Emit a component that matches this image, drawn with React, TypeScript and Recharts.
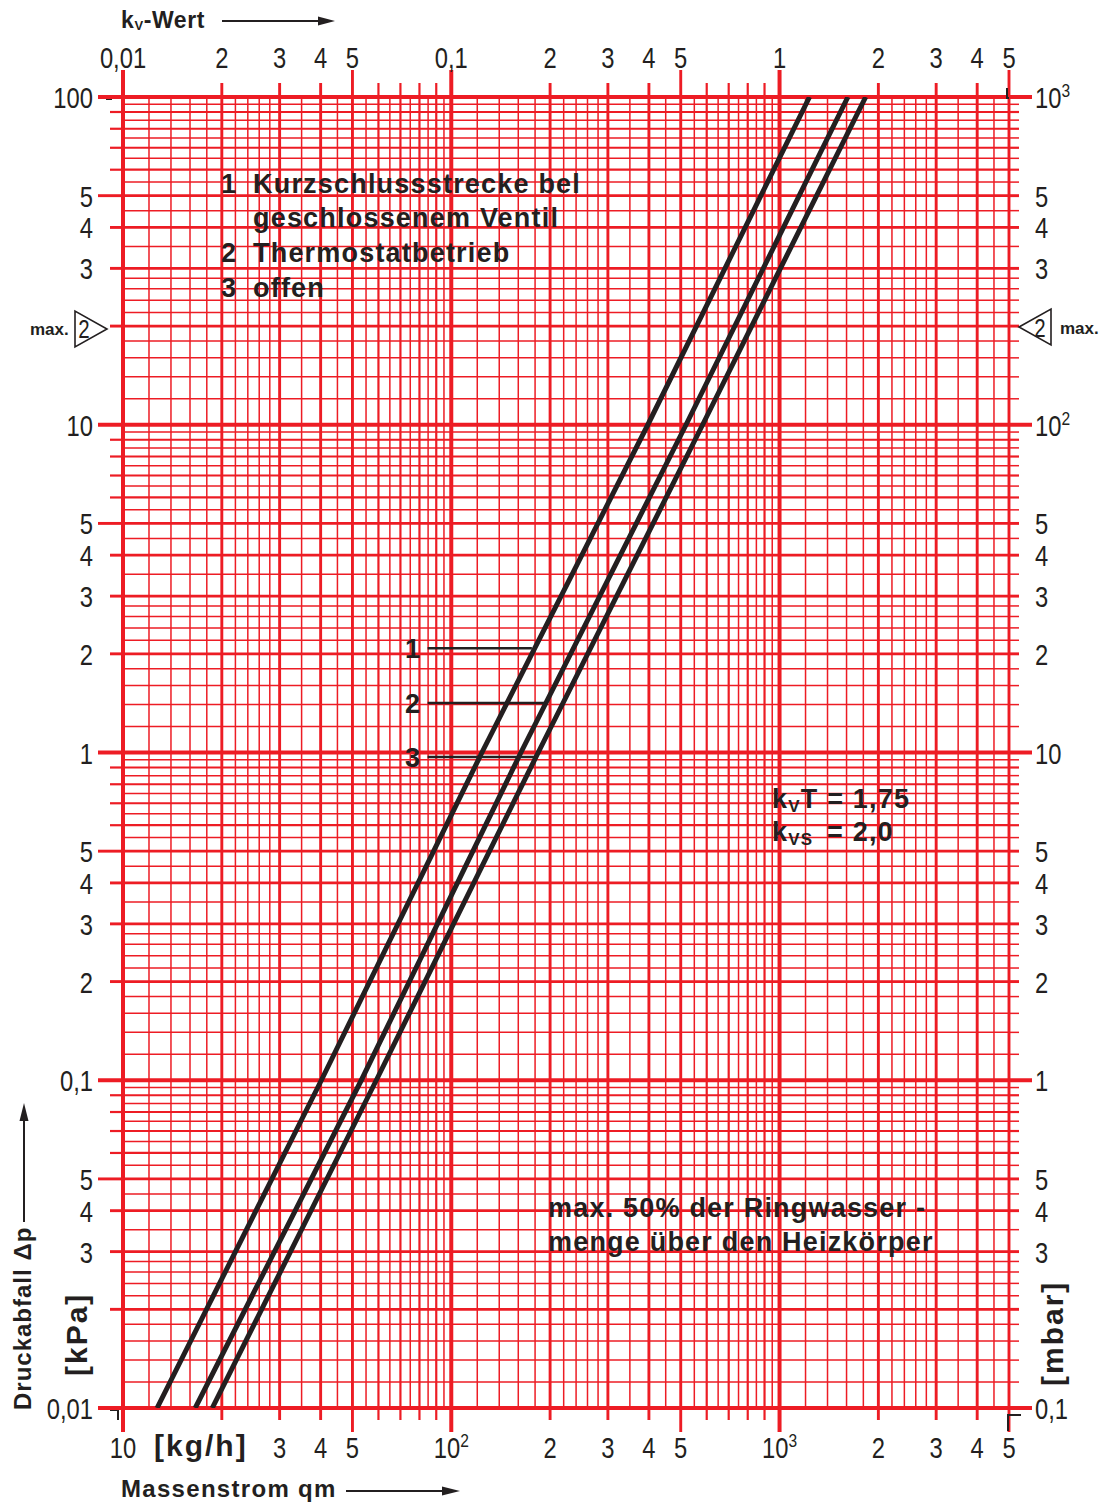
import React from 'react';
import { ComposedChart, Line, XAxis, YAxis, ReferenceLine } from 'recharts';

// ---- data ----
const pressureKPa = [0.01, 0.1, 1, 10, 100];
const flowCurve1 = [12.7, 40.2, 124, 397, 1234]; // 1 Kurzschlussstrecke
const flowCurve2 = [16.6, 53.2, 163, 519, 1615]; // 2 Thermostatbetrieb
const flowCurve3 = [18.7, 59.1, 184, 583, 1830]; // 3 offen

const flowDomain = [10, 5000];
const pressureDomain = [0.01, 100];
const flowDecades = [10, 100, 1000];
const pressureDecades = [0.01, 0.1, 1, 10];
const gridMantissas = [1, 1.2, 1.4, 1.6, 1.8, 2, 2.2, 2.4, 2.6, 2.8, 3, 3.5, 4, 4.5, 5, 5.5, 6, 6.5, 7, 7.5, 8, 8.5, 9, 9.5];
const labeledMantissas = [2, 3, 4, 5];
const bottomHiddenLabels = [20];
const sideHiddenLabels = [20, 0.02];

const leaderPressure = [2.08, 1.416, 0.969];
const leaderStartFlow = 84.7;
const leaderEndFlow = [176, 193, 181];

// ---- helpers ----
const FONT = "'Liberation Sans', Arial, Helvetica, sans-serif";
const INK = '#231f20';
const RED = '#ed1c24';

const round6 = (v: number) => parseFloat(v.toPrecision(6));
const mantissaOf = (v: number) => {
  const e = Math.floor(Math.log10(v) + 1e-9);
  return round6(v / Math.pow(10, e));
};
const isInt = (m: number) => Math.abs(m - Math.round(m)) < 1e-9;
const weightOf = (v: number) => {
  const m = mantissaOf(v);
  if (m === 1) return 4;
  if (isInt(m) && m <= 5) return 2.9;
  if (isInt(m)) return 2.2;
  return 1.5;
};
const comma = (v: number) => String(round6(v)).replace('.', ',');

const xGrid = flowDecades
  .flatMap((d) => gridMantissas.map((m) => round6(d * m)))
  .filter((v) => v <= flowDomain[1]);
const yGrid = pressureDecades
  .flatMap((d) => gridMantissas.map((m) => round6(d * m)))
  .concat([pressureDomain[1]]);
const xTicks = xGrid.filter((v) => isInt(mantissaOf(v)));
const yTicksLeft = yGrid.filter((v) => isInt(mantissaOf(v)));

const curve1 = pressureKPa.map((p, i) => ({ q: flowCurve1[i], p }));
const curve2 = pressureKPa.map((p, i) => ({ q: flowCurve2[i], p }));
const curve3 = pressureKPa.map((p, i) => ({ q: flowCurve3[i], p }));

type Lbl = { base: string; sup?: string } | null;

const TickText = ({ x, y, anchor, lbl }: { x: number; y: number; anchor: string; lbl: Lbl }) => {
  if (!lbl) return null;
  return (
    <g transform={`translate(${x},${y}) scale(0.82,1)`}>
      <text x={0} y={0} textAnchor={anchor as any} fontFamily={FONT} fontSize={29} fill={INK}>
        {lbl.base}
        {lbl.sup ? (
          <tspan dy={-11} fontSize={19}>
            {lbl.sup}
          </tspan>
        ) : null}
      </text>
    </g>
  );
};

const bottomLabel = (v: number): Lbl => {
  const m = mantissaOf(v);
  if (m === 1) {
    const e = Math.round(Math.log10(v));
    return e === 1 ? { base: '10' } : { base: '10', sup: String(e) };
  }
  if (labeledMantissas.includes(m) && !bottomHiddenLabels.includes(v)) return { base: String(m) };
  return null;
};
const topLabel = (v: number): Lbl => {
  const m = mantissaOf(v);
  if (m === 1) return { base: comma(v / 1000) };
  if (labeledMantissas.includes(m)) return { base: String(m) };
  return null;
};
const leftLabel = (v: number): Lbl => {
  const m = mantissaOf(v);
  if (m === 1) return { base: comma(v) };
  if (labeledMantissas.includes(m) && !sideHiddenLabels.includes(v)) return { base: String(m) };
  return null;
};
const rightLabel = (v: number): Lbl => {
  const m = mantissaOf(v);
  if (m === 1) {
    const mbar = round6(v * 10);
    if (mbar >= 100) return { base: '10', sup: String(Math.round(Math.log10(mbar))) };
    return { base: comma(mbar) };
  }
  if (labeledMantissas.includes(m) && !sideHiddenLabels.includes(v)) return { base: String(m) };
  return null;
};

const BottomTick = (props: any) => {
  const { x, y, payload } = props;
  const v = payload.value;
  const m = mantissaOf(v);
  const len = m === 1 || m === 5 ? 24 : 12;
  return (
    <g>
      <line x1={x} x2={x} y1={y} y2={y + len} stroke={RED} strokeWidth={weightOf(v)} />
      {v === flowDomain[0] ? (
        <path d={`M${x - 13},${y + 2} H${x - 5} V${y + 12}`} fill="none" stroke={INK} strokeWidth={2} />
      ) : null}
      {v === flowDomain[1] ? (
        <path d={`M${x - 1},${y + 23} V${y + 7} H${x + 12}`} fill="none" stroke={INK} strokeWidth={2} />
      ) : null}
      <TickText x={x} y={y + 50} anchor="middle" lbl={bottomLabel(v)} />
    </g>
  );
};

const TopTick = (props: any) => {
  const { x, y, payload } = props;
  const v = payload.value;
  const m = mantissaOf(v);
  const len = m === 1 || m === 5 ? 27 : 14;
  return (
    <g>
      <line x1={x} x2={x} y1={y} y2={y - len} stroke={RED} strokeWidth={weightOf(v)} />
      {v === flowDomain[0] ? (
        <path d={`M${x - 17},${y + 2} H${x - 11}`} fill="none" stroke={INK} strokeWidth={2} />
      ) : null}
      {v === flowDomain[1] ? (
        <path d={`M${x - 2},${y - 9} V${y + 1} H${x + 8}`} fill="none" stroke={INK} strokeWidth={2} />
      ) : null}
      <TickText x={x} y={y - 29} anchor="middle" lbl={topLabel(v)} />
    </g>
  );
};

const LeftTick = (props: any) => {
  const { x, y, payload } = props;
  const v = payload.value;
  const m = mantissaOf(v);
  const len = m === 1 || m === 5 ? 25 : 13;
  return (
    <g>
      <line x1={x} x2={x - len} y1={y} y2={y} stroke={RED} strokeWidth={weightOf(v)} />
      <TickText x={x - 30} y={y + 11} anchor="end" lbl={leftLabel(v)} />
    </g>
  );
};

const RightTick = (props: any) => {
  const { x, y, payload } = props;
  const v = payload.value;
  const m = mantissaOf(v);
  const len = m === 1 ? 23 : 10;
  return (
    <g>
      <line x1={x} x2={x + len} y1={y} y2={y} stroke={RED} strokeWidth={weightOf(v)} />
      <TickText x={x + 26} y={y + 11} anchor="start" lbl={rightLabel(v)} />
    </g>
  );
};

const boldText = { fontFamily: FONT, fontWeight: 700, fill: INK } as const;

const Overlay = () => (
  <svg
    width={1105}
    height={1502}
    style={{ position: 'absolute', left: 0, top: 0, pointerEvents: 'none' }}
  >
    {/* top axis title */}
    <text x={121} y={28} {...boldText} fontSize={23} letterSpacing={0.6}>
      k
      <tspan fontSize={13} dy={2}>
        V
      </tspan>
      <tspan dy={-2}>-Wert</tspan>
    </text>
    <line x1={222} x2={322} y1={21} y2={21} stroke={INK} strokeWidth={2} />
    <polygon points="318,16.5 335,21 318,25.5" fill={INK} />

    {/* bottom axis title */}
    <text x={121} y={1497} {...boldText} fontSize={24} letterSpacing={1.3}>
      Massenstrom qm
    </text>
    <line x1={346} x2={446} y1={1491} y2={1491} stroke={INK} strokeWidth={2} />
    <polygon points="442,1486.5 460,1491 442,1495.5" fill={INK} />
    <text x={154} y={1456} {...boldText} fontSize={30} letterSpacing={2}>
      [kg/h]
    </text>

    {/* left axis title */}
    <text transform="translate(31,1410) rotate(-90)" {...boldText} fontSize={24} letterSpacing={1}>
      Druckabfall Δp
    </text>
    <line x1={24} x2={24} y1={1222} y2={1118} stroke={INK} strokeWidth={2} />
    <polygon points="19.5,1121 24,1103 28.5,1121" fill={INK} />
    <text transform="translate(87,1376) rotate(-90)" {...boldText} fontSize={30} letterSpacing={2}>
      [kPa]
    </text>
    <text transform="translate(1063,1386) rotate(-90)" {...boldText} fontSize={30} letterSpacing={2}>
      [mbar]
    </text>

    {/* max markers */}
    <text x={30} y={335} {...boldText} fontSize={17}>
      max.
    </text>
    <polygon points="75,311 75,347 107,329" fill="#fff" stroke={INK} strokeWidth={1.6} />
    <g transform="translate(84,338) scale(0.82,1)">
      <text x={0} y={0} textAnchor="middle" fontFamily={FONT} fontSize={25} fill={INK}>
        2
      </text>
    </g>
    <polygon points="1019,327 1051,309 1051,345" fill="#fff" stroke={INK} strokeWidth={1.6} />
    <g transform="translate(1040,337) scale(0.82,1)">
      <text x={0} y={0} textAnchor="middle" fontFamily={FONT} fontSize={25} fill={INK}>
        2
      </text>
    </g>
    <text x={1060} y={334} {...boldText} fontSize={17}>
      max.
    </text>

    {/* legend */}
    <g {...boldText} fontSize={27} letterSpacing={1.2}>
      <text x={221} y={193}>1</text>
      <text x={253} y={193}>Kurzschlussstrecke bel</text>
      <text x={253} y={227}>geschlossenem Ventil</text>
      <text x={221} y={262}>2</text>
      <text x={253} y={262}>Thermostatbetrieb</text>
      <text x={221} y={297}>3</text>
      <text x={253} y={297}>offen</text>

      <text x={413} y={658} textAnchor="middle">1</text>
      <text x={413} y={713} textAnchor="middle">2</text>
      <text x={413} y={767} textAnchor="middle">3</text>

      <text x={772} y={808}>
        k
        <tspan fontSize={17} dy={4}>
          V
        </tspan>
        <tspan dy={-4}>T = 1,75</tspan>
      </text>
      <text x={772} y={841}>
        k
        <tspan fontSize={17} dy={4}>
          VS
        </tspan>
        <tspan x={827} dy={-4}>
          = 2,0
        </tspan>
      </text>

      <text x={548} y={1217}>max. 50% der Ringwasser -</text>
      <text x={548} y={1251}>menge über den Heizkörper</text>
    </g>
  </svg>
);

export default function App() {
  return (
    <div style={{ position: 'absolute', left: 0, top: 0, width: 1105, height: 1502, background: '#fff' }}>
      <ComposedChart width={1105} height={1502} margin={{ top: 67, right: 66, bottom: 64, left: 93 }}>
        <XAxis
          xAxisId="bottom"
          orientation="bottom"
          dataKey="q"
          type="number"
          scale="log"
          domain={flowDomain}
          allowDataOverflow
          ticks={xTicks}
          interval={0}
          tick={(p: any) => <BottomTick {...p} />}
          tickLine={false}
          axisLine={false}
          tickSize={0}
          tickMargin={0}
          height={30}
        />
        <XAxis
          xAxisId="top"
          orientation="top"
          dataKey="q"
          type="number"
          scale="log"
          domain={flowDomain}
          allowDataOverflow
          ticks={xTicks}
          interval={0}
          tick={(p: any) => <TopTick {...p} />}
          tickLine={false}
          axisLine={false}
          tickSize={0}
          tickMargin={0}
          height={30}
        />
        <YAxis
          yAxisId="left"
          orientation="left"
          dataKey="p"
          type="number"
          scale="log"
          domain={pressureDomain}
          allowDataOverflow
          ticks={yTicksLeft}
          interval={0}
          tick={(p: any) => <LeftTick {...p} />}
          tickLine={false}
          axisLine={false}
          tickSize={0}
          tickMargin={0}
          width={30}
        />
        <YAxis
          yAxisId="right"
          orientation="right"
          dataKey="p"
          type="number"
          scale="log"
          domain={pressureDomain}
          allowDataOverflow
          ticks={yGrid}
          interval={0}
          tick={(p: any) => <RightTick {...p} />}
          tickLine={false}
          axisLine={false}
          tickSize={0}
          tickMargin={0}
          width={30}
        />

        {xGrid.map((v) => (
          <ReferenceLine
            key={'gx' + v}
            xAxisId="bottom"
            yAxisId="left"
            x={v}
            stroke={RED}
            strokeWidth={weightOf(v)}
            ifOverflow="extendDomain"
            zIndex={-100}
          />
        ))}
        {yGrid.map((v) => (
          <ReferenceLine
            key={'gy' + v}
            xAxisId="bottom"
            yAxisId="left"
            y={v}
            stroke={RED}
            strokeWidth={weightOf(v)}
            ifOverflow="extendDomain"
            zIndex={-100}
          />
        ))}

        <Line xAxisId="bottom" yAxisId="left" data={curve1} dataKey="p" type="linear" stroke={INK} strokeWidth={5} dot={false} isAnimationActive={false} zIndex={400} />
        <Line xAxisId="bottom" yAxisId="left" data={curve2} dataKey="p" type="linear" stroke={INK} strokeWidth={5} dot={false} isAnimationActive={false} zIndex={400} />
        <Line xAxisId="bottom" yAxisId="left" data={curve3} dataKey="p" type="linear" stroke={INK} strokeWidth={5} dot={false} isAnimationActive={false} zIndex={400} />

        {leaderPressure.map((p, i) => (
          <ReferenceLine
            key={'lead' + i}
            xAxisId="bottom"
            yAxisId="left"
            segment={[
              { x: leaderStartFlow, y: p },
              { x: leaderEndFlow[i], y: p },
            ]}
            stroke={INK}
            strokeWidth={2.6}
            zIndex={450}
          />
        ))}
      </ComposedChart>
      <Overlay />
    </div>
  );
}
